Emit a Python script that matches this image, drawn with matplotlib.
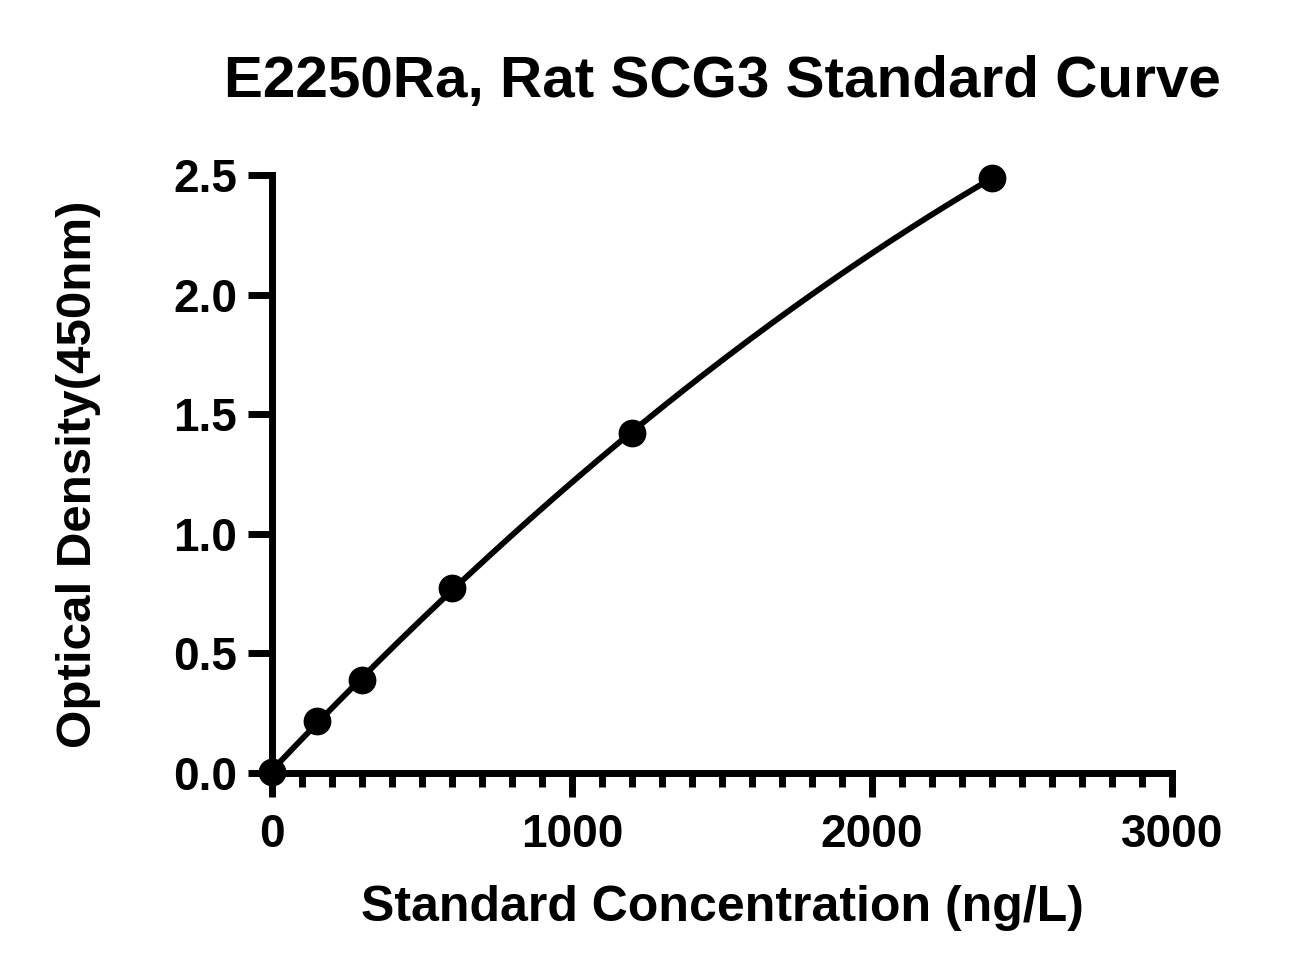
import numpy as np
import matplotlib.pyplot as plt
from matplotlib.ticker import MultipleLocator

plt.rcParams['font.family'] = ['Liberation Sans', 'DejaVu Sans']
plt.rcParams['font.weight'] = 'bold'

conc = [0, 150, 300, 600, 1200, 2400]
od = [0.005, 0.218, 0.389, 0.773, 1.421, 2.488]

# smooth fitted curve through the standards
coef = np.polyfit(conc, od, 2)
xs = np.linspace(0, 2400, 300)
ys = np.polyval(coef, xs)

fig = plt.figure(figsize=(13.11, 9.75), dpi=100)
ax = fig.add_axes([0.2075, 0.2072, 0.894 - 0.2075, 0.8205 - 0.2072])

ax.plot(xs, ys, color='black', lw=4.2, clip_on=False)
ax.plot(conc, od, 'o', color='black', ms=19, clip_on=False, zorder=5)

ax.set_xlim(0, 3000)
ax.set_ylim(0, 2.5)
ax.xaxis.set_major_locator(MultipleLocator(1000))
ax.xaxis.set_minor_locator(MultipleLocator(100))
ax.yaxis.set_major_locator(MultipleLocator(0.5))
ax.yaxis.set_major_formatter(plt.FormatStrFormatter('%.1f'))

for s in ['top', 'right']:
    ax.spines[s].set_visible(False)
for s in ['left', 'bottom']:
    ax.spines[s].set_linewidth(5)

ax.tick_params(axis='both', which='major', width=5, length=17, labelsize=33, pad=8)
ax.tick_params(axis='x', which='major', pad=12)
ax.tick_params(axis='x', which='minor', width=5, length=10)

ax.set_xlabel('Standard Concentration (ng/L)', fontsize=36, fontweight='bold', labelpad=20)
ax.set_ylabel('Optical Density(450nm)', fontsize=35.5, fontweight='bold', labelpad=52)
ax.set_title('E2250Ra, Rat SCG3 Standard Curve', fontsize=42, fontweight='bold', pad=56)

fig.savefig('out.png', dpi=100)
